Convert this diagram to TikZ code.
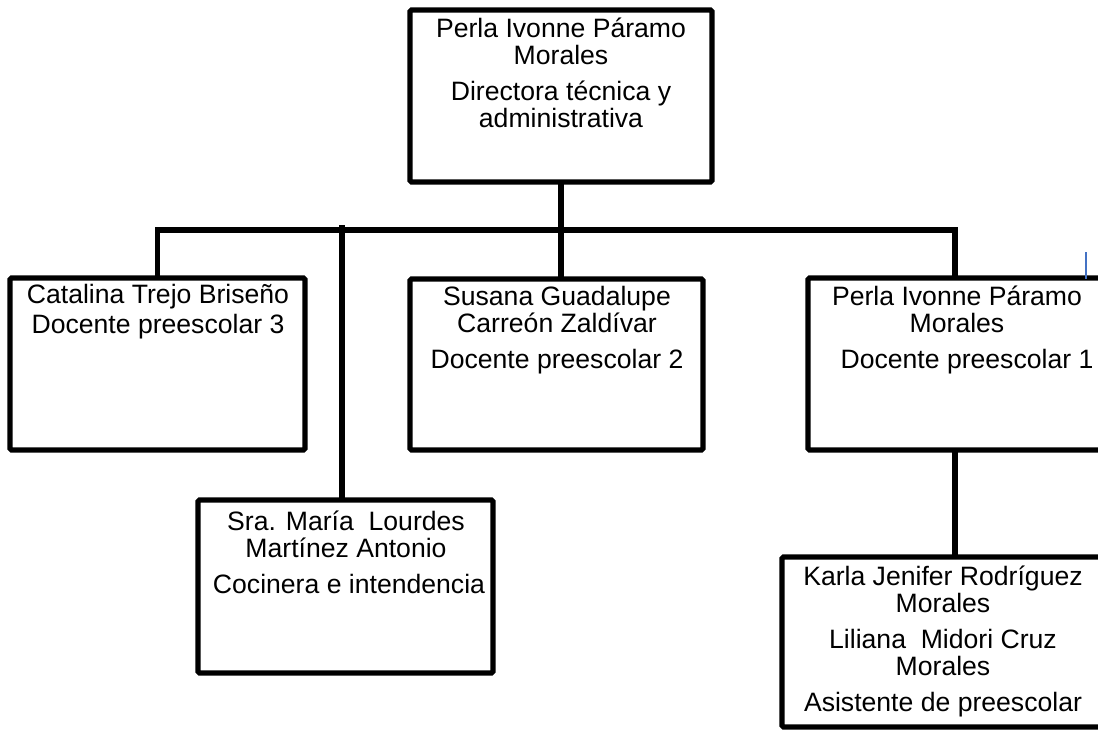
\documentclass[tikz,border=0pt]{standalone}
\usepackage{fontspec}
\setmainfont{Liberation Sans}
\newcommand\orglines[1]{\vtop{\baselineskip=13.5pt\lineskiplimit=-10pt\halign{\hfil##\hfil\cr#1\crcr}}}
\newcommand\pgap{\noalign{\vskip4.5pt}}
\begin{document}
\begin{tikzpicture}[x=0.5pt,y=-0.5pt,
  orgbox/.style={draw=black, line width=2.7pt, fill=white, inner sep=0pt, outer sep=0pt, rounded corners=0.8pt},
  orglabel/.style={anchor=base, inner sep=0pt, font=\fontsize{13.3pt}{13.5pt}\selectfont},
  link/.style={draw=black, line width=2.7pt},
  cursor/.style={draw={rgb,255:red,68;green,114;blue,196}, line width=0.8pt}]
\useasboundingbox (0,0) rectangle (1098,729);
% boxes
\node[orgbox, minimum width=151pt, minimum height=86pt] (top) at (561,96) {};
\node[orgbox, minimum width=147.5pt, minimum height=86pt] (cat) at (157.5,364) {};
\node[orgbox, minimum width=146.5pt, minimum height=85.5pt] (sus) at (556.5,364.5) {};
\node[orgbox, minimum width=147pt, minimum height=86pt] (perla) at (955,364) {};
\node[orgbox, minimum width=147.5pt, minimum height=86.5pt] (sra) at (345.5,586.5) {};
\node[orgbox, minimum width=161pt, minimum height=85pt] (bot) at (943,642) {};
% labels
\node[orglabel] (topT) at (561,37) {\orglines{Perla Ivonne Páramo\cr Morales\cr\pgap Directora técnica y\cr administrativa}};
\node[orglabel] (catT) at (158,303) {\orglines{Catalina Trejo Briseño\cr\noalign{\vskip1.5pt} Docente preescolar 3}};
\node[orglabel] (susT) at (557,305) {\orglines{Susana Guadalupe\cr Carreón Zaldívar\cr\pgap Docente preescolar 2}};
\node[orglabel] (perlaT) at (957,305) {\orglines{Perla Ivonne Páramo\cr Morales\cr\pgap \hspace*{10pt}Docente preescolar 1}};
\node[orglabel] (sraT) at (346,530) {\orglines{Sra. María~~Lourdes\cr Martínez Antonio\cr\pgap \hspace*{3pt}Cocinera e intendencia}};
\node[orglabel] (botT) at (943,585) {\orglines{Karla Jenifer Rodríguez\cr Morales\cr\pgap Liliana~~Midori Cruz\cr Morales\cr\pgap Asistente de preescolar}};
% connectors
\coordinate (bus) at (0,230);
\coordinate (sraTop) at (342,225);
\draw[link] (top.south) -- (top.south |- sus.north);
\draw[link] (cat.north) -- (cat.north |- bus) -- (perla.north |- bus) -- (perla.north);
\draw[link] (sraTop) -- (sraTop |- sra.north);
\draw[link] (perla.south) -- (perla.south |- bot.north);
% cursor mark
\coordinate (curA) at (1086,252);
\coordinate (curB) at (1086,279);
\draw[cursor] (curA) -- (curB);
\end{tikzpicture}
\end{document}
